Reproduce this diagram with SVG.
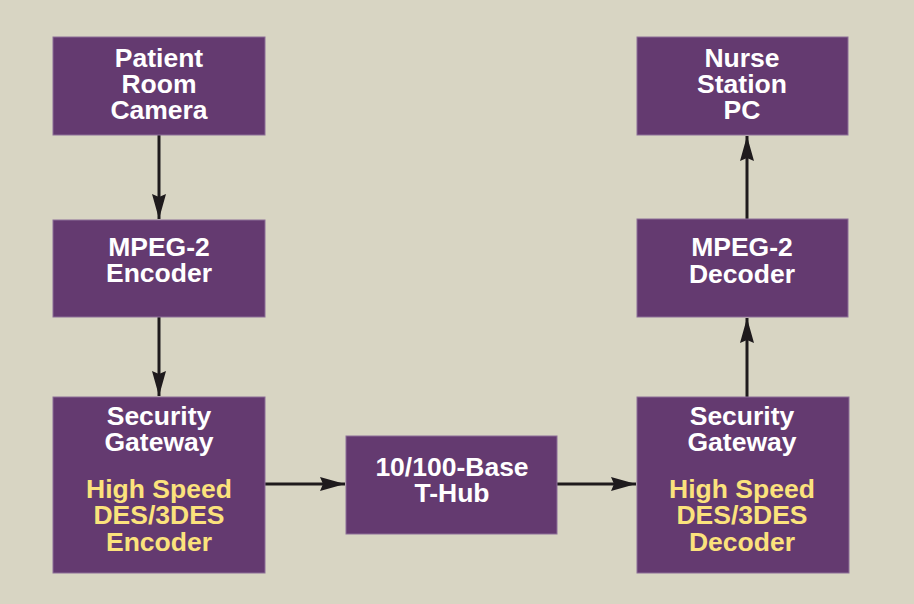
<svg xmlns="http://www.w3.org/2000/svg" width="914" height="604" viewBox="0 0 914 604">
<style>
.box{fill:#643a70;stroke:#8c6f98;stroke-width:1}
.t{font-family:"Liberation Sans",Arial,sans-serif;font-weight:bold;font-size:26.5px;text-anchor:middle;fill:#ffffff}
.y{fill:#fbe27c}
.c{stroke:#1e1a1c;stroke-width:3;fill:none}
</style>
<defs>
<marker id="ah" markerUnits="userSpaceOnUse" markerWidth="28" markerHeight="18" viewBox="0 0 28 18" refX="25" refY="9" orient="auto">
<path d="M0,2 L25,9 L0,16 L3,9 Z" fill="#1e1a1c"/>
</marker>
</defs>
<rect x="0" y="0" width="914" height="604" fill="#d8d5c3"/>
<g id="connectors">
<line class="c" x1="159" y1="135" x2="159" y2="219" marker-end="url(#ah)"/>
<line class="c" x1="159" y1="317" x2="159" y2="396" marker-end="url(#ah)"/>
<line class="c" x1="265" y1="484" x2="345" y2="484" marker-end="url(#ah)"/>
<line class="c" x1="557" y1="484" x2="636" y2="484" marker-end="url(#ah)"/>
<line class="c" x1="747" y1="397" x2="747" y2="318" marker-end="url(#ah)"/>
<line class="c" x1="747" y1="219" x2="747" y2="136" marker-end="url(#ah)"/>
</g>
<g id="camera">
<rect class="box" x="53" y="37" width="212" height="98"/>
<text class="t" x="159" y="67">Patient</text>
<text class="t" x="159" y="93">Room</text>
<text class="t" x="159" y="119">Camera</text>
</g>
<g id="encoder">
<rect class="box" x="53" y="220" width="212" height="97"/>
<text class="t" x="159" y="256">MPEG-2</text>
<text class="t" x="159" y="282">Encoder</text>
</g>
<g id="gateway-left">
<rect class="box" x="53" y="397" width="212" height="176"/>
<text class="t" x="159" y="425">Security</text>
<text class="t" x="159" y="451">Gateway</text>
<text class="t y" x="159" y="498">High Speed</text>
<text class="t y" x="159" y="524">DES/3DES</text>
<text class="t y" x="159" y="551">Encoder</text>
</g>
<g id="hub">
<rect class="box" x="346" y="436" width="211" height="98"/>
<text class="t" x="452" y="476">10/100-Base</text>
<text class="t" x="452" y="502">T-Hub</text>
</g>
<g id="gateway-right">
<rect class="box" x="637" y="397" width="212" height="176"/>
<text class="t" x="742" y="425">Security</text>
<text class="t" x="742" y="451">Gateway</text>
<text class="t y" x="742" y="498">High Speed</text>
<text class="t y" x="742" y="524">DES/3DES</text>
<text class="t y" x="742" y="551">Decoder</text>
</g>
<g id="decoder">
<rect class="box" x="637" y="219" width="211" height="98"/>
<text class="t" x="742" y="256">MPEG-2</text>
<text class="t" x="742" y="283">Decoder</text>
</g>
<g id="nurse">
<rect class="box" x="637" y="37" width="211" height="98"/>
<text class="t" x="742" y="67">Nurse</text>
<text class="t" x="742" y="93">Station</text>
<text class="t" x="742" y="119">PC</text>
</g>
</svg>
